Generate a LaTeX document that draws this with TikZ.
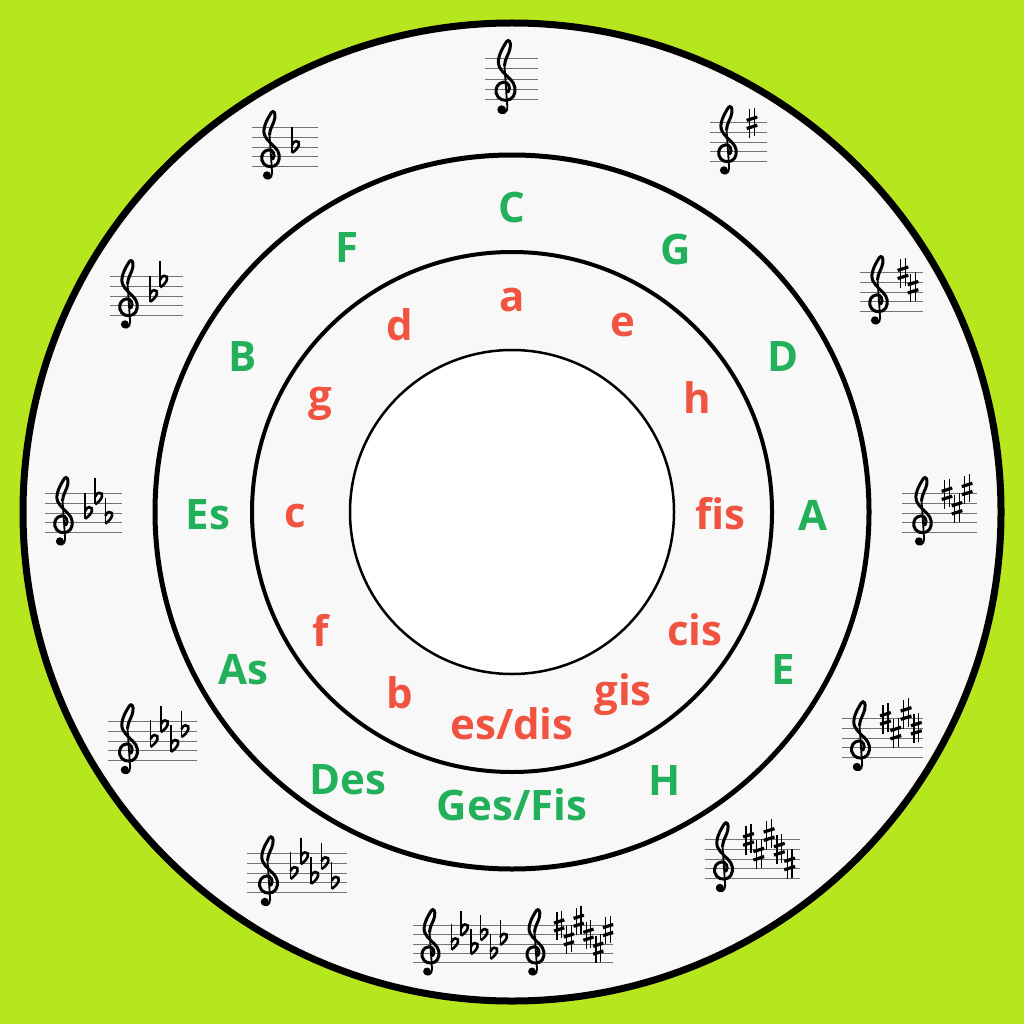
\documentclass[tikz,border=0pt]{standalone}
\usepackage{fontspec}
\setmainfont{Open Sans}
\definecolor{bg}{HTML}{B6E61E}
\definecolor{ring}{HTML}{F8F8F8}
\definecolor{maj}{HTML}{23B05B}
\definecolor{minr}{HTML}{F0533F}
\tikzset{
  major/.style={text=maj, font=\fontsize{42}{42}\selectfont\bfseries, inner sep=0pt},
  minor/.style={text=minr, font=\fontsize{42}{42}\selectfont\bfseries, inner sep=0pt},
  staffline/.style={draw=black!55, line width=0.9pt},
}
\newcommand\staffl[4]{%
  \foreach \k in {-2,...,2} {\draw[staffline] (#1,{#3+\k*#4}) -- (#2,{#3+\k*#4});}}
\newcommand\clefsym{%
  \draw[line width=3pt, line cap=round]
    (0.3,-1.25) .. controls (0.6,-0.8) and (0.3,-0.25) .. (-0.15,-0.3)
    .. controls (-0.7,-0.35) and (-0.95,-0.9) .. (-0.85,-1.35)
    .. controls (-0.7,-2.0) and (0.0,-2.2) .. (0.5,-1.95)
    .. controls (1.0,-1.7) and (1.1,-0.9) .. (0.8,-0.4)
    .. controls (0.5,0.1) and (-0.3,0.6) .. (-0.55,1.2)
    .. controls (-0.85,1.9) and (-0.3,2.9) .. (0.15,3.6)
    .. controls (0.35,3.85) and (0.6,3.6) .. (0.5,3.0)
    .. controls (0.4,2.4) and (0.0,2.0) .. (-0.05,1.3);
  \draw[line width=1.8pt, line cap=round]
    (-0.05,1.3) -- (0.22,-2.7) .. controls (0.25,-3.35) and (-0.4,-3.5) .. (-0.55,-3.0);
  \fill (-0.32,-2.95) circle (0.42);
}
\newcommand\sharpat[2]{%
  \draw[line width=1.3pt] ({#1-0.25},{#2-1.55}) -- ({#1-0.25},{#2+1.4})
                          ({#1+0.25},{#2-1.4}) -- ({#1+0.25},{#2+1.55});
  \draw[line width=3.2pt] ({#1-0.55},{#2-0.6}) -- ({#1+0.55},{#2-0.25})
                          ({#1-0.55},{#2+0.25}) -- ({#1+0.55},{#2+0.6});}
\newcommand\flatat[2]{%
  \draw[line width=1.4pt] ({#1-0.3},{#2+2.1}) -- ({#1-0.3},{#2-0.6});
  \draw[line width=2.6pt] ({#1-0.3},{#2-0.6}) .. controls ({#1+0.5},{#2-0.1}) and ({#1+0.65},{#2+0.65}) .. ({#1+0.1},{#2+0.6})
     .. controls ({#1-0.1},{#2+0.55}) .. ({#1-0.3},{#2+0.2});}
\newcommand\sig[5]{%
  \begin{scope}[shift={(#1,#2)}, x=#3pt, y=#3pt]
    \clefsym
    \ifnum#4=0
      \foreach \p [count=\i] in {8,5,9,6,3,7} {\ifnum\i>#5\relax\else\sharpat{2.6+1.05*(\i-1)}{-2+\p/2}\fi}
    \else
      \foreach \p [count=\i] in {4,7,3,6,2,5} {\ifnum\i>#5\relax\else\flatat{2.6+1.05*(\i-1)}{-2+\p/2}\fi}
    \fi
  \end{scope}}
\begin{document}
\begin{tikzpicture}[x=1pt, y=-1pt]
  \useasboundingbox (0,0) rectangle (1024,1024);
  \fill[bg] (0,0) rectangle (1024,1024);
  \draw[line width=7pt, fill=ring] (512,512) circle (489);
  \draw[line width=5pt] (512,512) circle (357);
  \draw[line width=4pt] (512,512) circle (260);
  \draw[line width=2.5pt, fill=white] (512,512) circle (162);

  % major keys
  \node[major] (C)   at (512,207) {C};
  \node[major] (G)   at (676,249) {G};
  \node[major] (D)   at (783,357) {D};
  \node[major] (A)   at (813,515) {A};
  \node[major] (E)   at (783,670) {E};
  \node[major] (H)   at (665,780) {H};
  \node[major] (Ges) at (512,805) {Ges/Fis};
  \node[major] (Des) at (348,780) {Des};
  \node[major] (As)  at (243,670) {As};
  \node[major] (Es)  at (208,515) {Es};
  \node[major] (B)   at (243,357) {B};
  \node[major] (F)   at (347,248) {F};

  % minor keys
  \node[minor] (a)   at (512,300) {a};
  \node[minor] (e)   at (623,325) {e};
  \node[minor] (h)   at (697,398) {h};
  \node[minor] (fis) at (720,514) {fis};
  \node[minor] (cis) at (695,630) {cis};
  \node[minor] (gis) at (623,695) {gis};
  \node[minor] (es)  at (512,724) {es/dis};
  \node[minor] (b)   at (400,693) {b};
  \node[minor] (f)   at (321,630) {f};
  \node[minor] (c)   at (295,516) {c};
  \node[minor] (g)   at (320,404) {g};
  \node[minor] (d)   at (400,325) {d};

  % key signatures
  \staffl{485}{538}{79}{10.4}  \sig{505}{79}{10.4}{0}{0}
  \staffl{710}{767}{142}{9.6}  \sig{727}{142}{9.6}{0}{1}
  \staffl{860}{923}{292}{9.6}  \sig{878}{292}{9.6}{0}{2}
  \staffl{902}{977}{513}{9.6}  \sig{922}{513}{9.6}{0}{3}
  \staffl{842}{923}{738}{9.8}  \sig{860}{738}{9.8}{0}{4}
  \staffl{705}{800}{859}{9.8}  \sig{723}{859}{9.8}{0}{5}
  \staffl{413}{613}{944}{9.3}  \sig{430}{944}{9.3}{1}{6} \sig{535}{944}{9.3}{0}{6}
  \staffl{247}{347}{873}{9.8}  \sig{268}{873}{9.8}{1}{5}
  \staffl{108}{197}{741}{9.8}  \sig{128}{741}{9.8}{1}{4}
  \staffl{45}{122}{513}{9.6}   \sig{63}{513}{9.6}{1}{3}
  \staffl{110}{183}{296}{9.6}  \sig{128}{296}{9.6}{1}{2}
  \staffl{252}{318}{147}{9.6}  \sig{270}{147}{9.6}{1}{1}
\end{tikzpicture}
\end{document}
